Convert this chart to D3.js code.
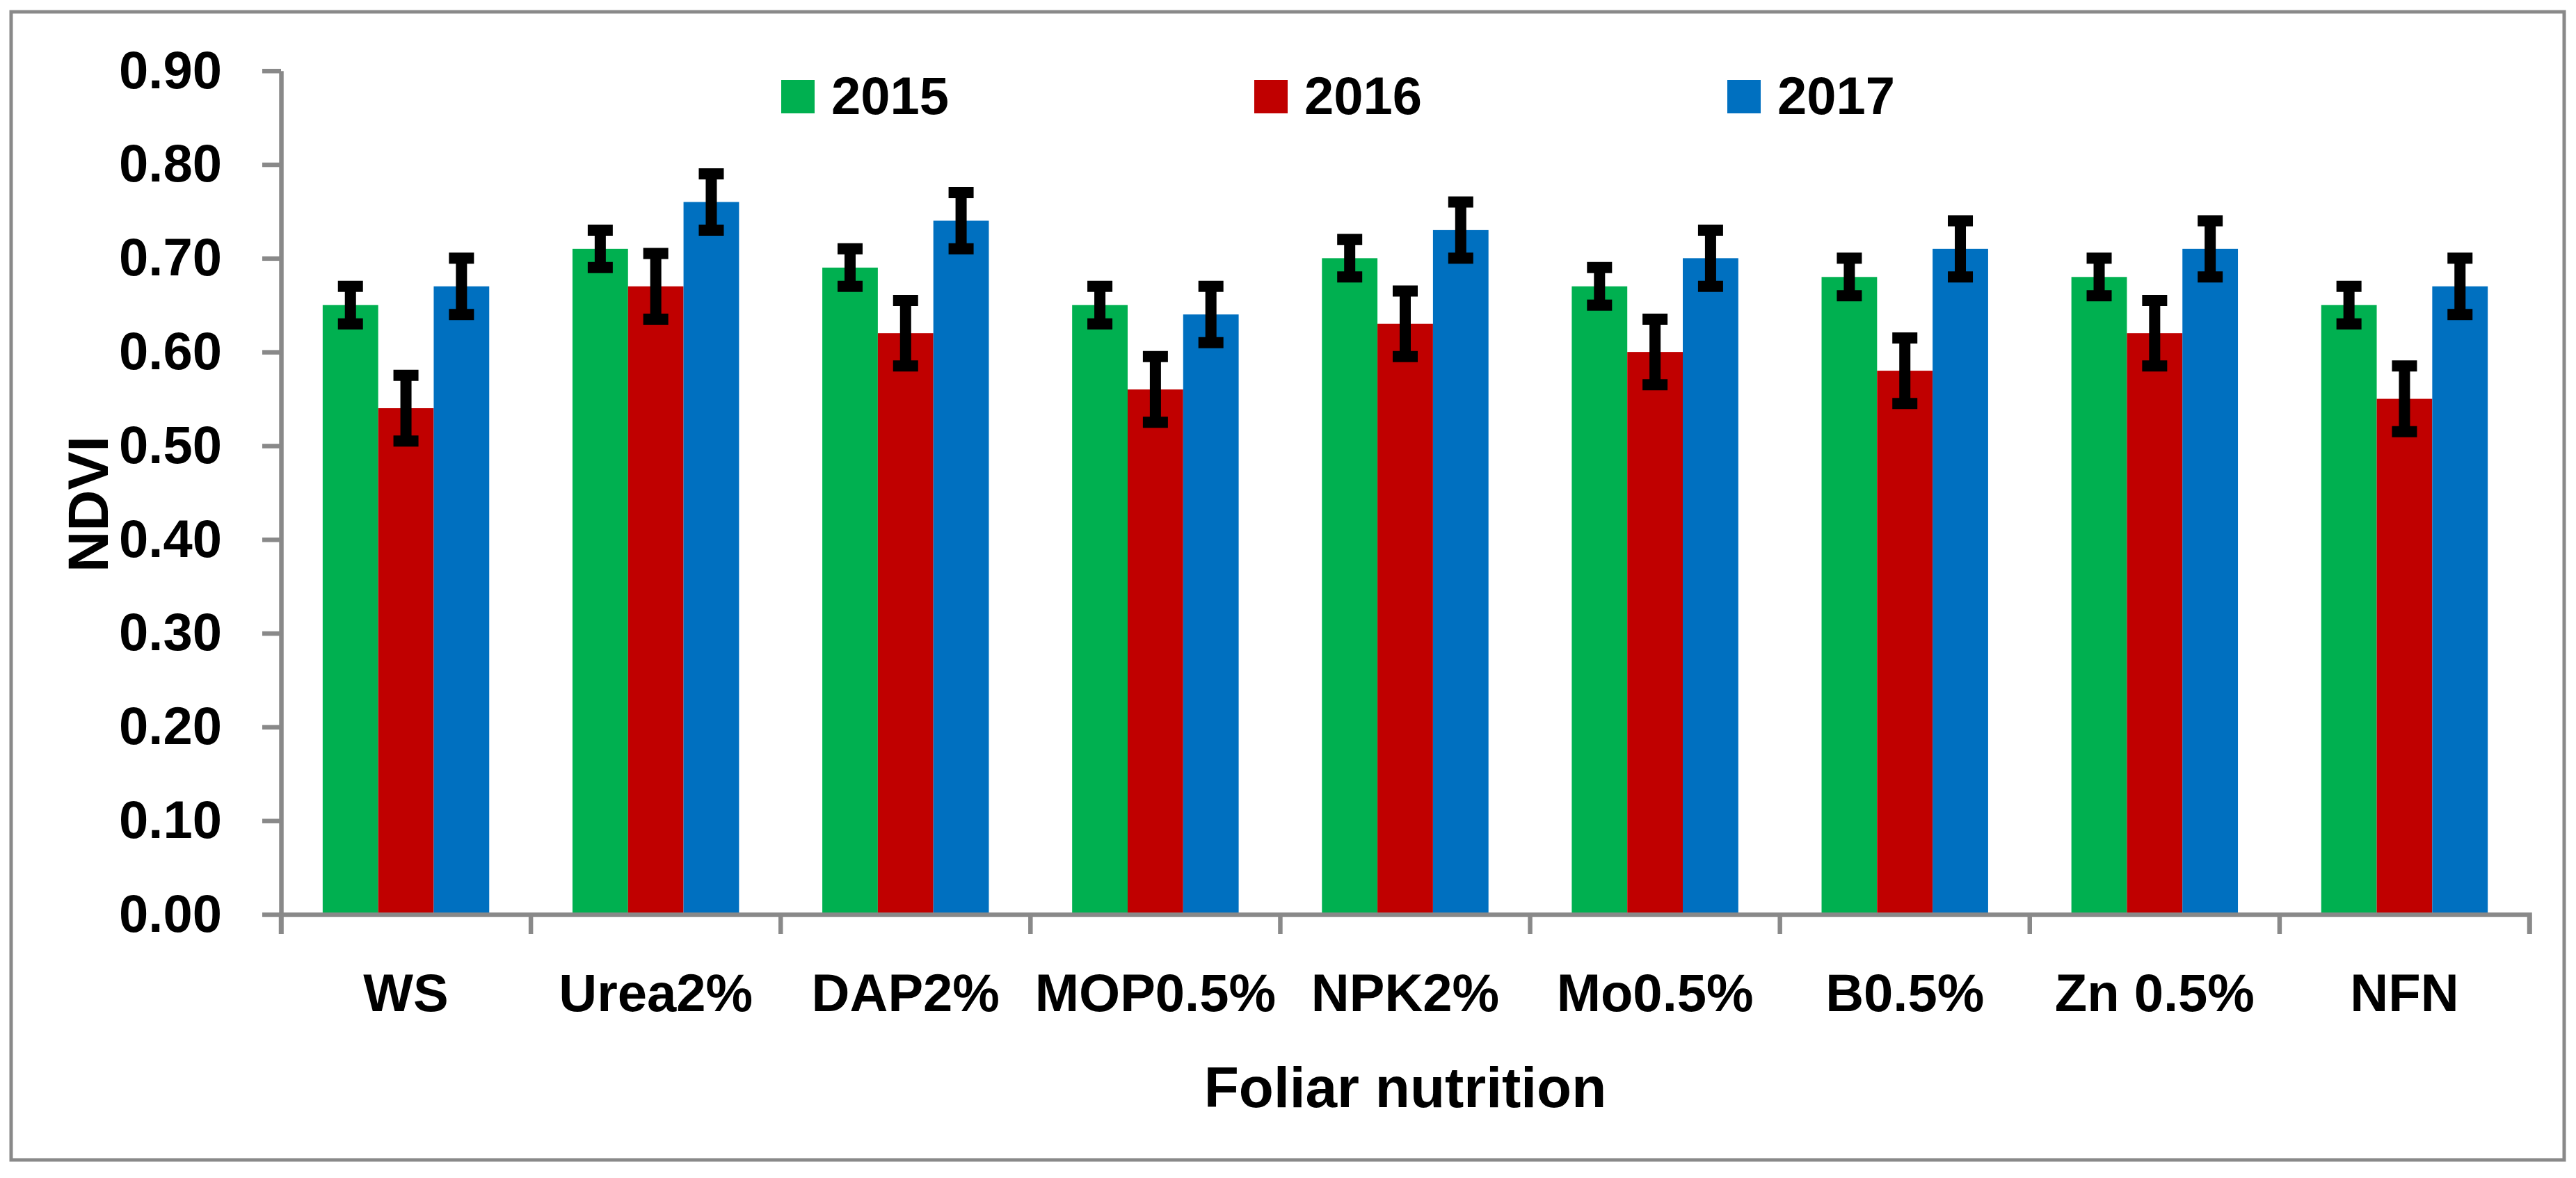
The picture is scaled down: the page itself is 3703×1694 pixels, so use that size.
<!DOCTYPE html>
<html>
<head>
<meta charset="utf-8">
<script src="https://cdn.jsdelivr.net/npm/d3@7"></script>
<style>
  body { margin: 0; background: #fff; }
  svg text { font-family: "Liberation Sans", Arial, sans-serif; font-weight: bold; fill: #000; }
</style>
</head>
<body>
<svg id="chart" width="3703" height="1694"></svg>
<script>
// дані з рисунка
const categories = ["WS", "Urea2%", "DAP2%", "MOP0.5%", "NPK2%", "Mo0.5%", "B0.5%", "Zn 0.5%", "NFN"];
const years = ["2015", "2016", "2017"];
const ndvi2015 = [0.65, 0.71, 0.69, 0.65, 0.70, 0.67, 0.68, 0.68, 0.65];
const ndvi2016 = [0.54, 0.67, 0.62, 0.56, 0.63, 0.60, 0.58, 0.62, 0.55];
const ndvi2017 = [0.67, 0.76, 0.74, 0.64, 0.73, 0.70, 0.71, 0.71, 0.67];
const err2015 = [0.02, 0.02, 0.02, 0.02, 0.02, 0.02, 0.02, 0.02, 0.02];
const err2016 = [0.035, 0.035, 0.035, 0.035, 0.035, 0.035, 0.035, 0.035, 0.035];
const err2017 = [0.03, 0.03, 0.03, 0.03, 0.03, 0.03, 0.03, 0.03, 0.03];
const yTicks = [0, 0.1, 0.2, 0.3, 0.4, 0.5, 0.6, 0.7, 0.8, 0.9];
const colors = ["#00B050", "#C00000", "#0070C0"];

const values = [ndvi2015, ndvi2016, ndvi2017];
const errors = [err2015, err2016, err2017];
const axisColor = "#898989";

const svg = d3.select("#chart");

// рамка навколо діаграми
svg.append("rect")
    .attr("x", 16).attr("y", 17)
    .attr("width", 3670).attr("height", 1651)
    .attr("fill", "none")
    .attr("stroke", axisColor)
    .attr("stroke-width", 5);

// шкали
const y = d3.scaleLinear().domain([0, 0.9]).range([1315, 101.7]);
const x0 = d3.scaleBand().domain(categories).range([404, 3636]);
const x1 = d3.scaleBand().domain(years).range([0, x0.bandwidth()])
    .paddingInner(0).paddingOuter(0.75);
const color = d3.scaleOrdinal().domain(years).range(colors);

// стовпчики
const rows = [];
categories.forEach((c, i) => {
    years.forEach((yr, k) => {
        rows.push({ cat: c, year: yr, value: values[k][i], err: errors[k][i] });
    });
});

svg.append("g").selectAll("rect")
    .data(rows)
    .join("rect")
    .attr("x", d => x0(d.cat) + x1(d.year))
    .attr("y", d => y(d.value))
    .attr("width", x1.bandwidth())
    .attr("height", d => y(0) - y(d.value))
    .attr("fill", d => color(d.year));

// осі
const yAxis = svg.append("g")
    .attr("transform", `translate(${x0.range()[0]},0)`)
    .call(d3.axisLeft(y).tickValues(yTicks).tickFormat(d3.format(".2f"))
        .tickSize(27).tickSizeOuter(0).tickPadding(58));
yAxis.selectAll("text").style("font-size", "76px");

const xAxis = svg.append("g")
    .attr("transform", `translate(0,${y(0)})`)
    .call(d3.axisBottom(x0).tickSize(0).tickSizeOuter(28));
xAxis.selectAll("text")
    .style("font-size", "76px")
    .attr("dy", null)
    .attr("y", 139);

// поділки між категоріями
const bounds = categories.map(c => x0(c)).concat([x0.range()[1]]);
xAxis.selectAll(".bound")
    .data(bounds)
    .join("line")
    .attr("class", "bound")
    .attr("x1", d => d).attr("x2", d => d)
    .attr("y1", 0).attr("y2", 28);

svg.selectAll(".domain, .tick line, .bound")
    .attr("stroke", axisColor)
    .attr("stroke-width", 6.5);
svg.selectAll(".domain").attr("fill", "none");

// похибки
const eb = svg.append("g");
rows.forEach(d => {
    const cx = x0(d.cat) + x1(d.year) + x1.bandwidth() / 2;
    const yTop = y(d.value + d.err);
    const yBot = y(d.value - d.err);
    eb.append("line")
        .attr("x1", cx).attr("x2", cx)
        .attr("y1", yTop).attr("y2", yBot)
        .attr("stroke", "#000").attr("stroke-width", 16);
    [yTop, yBot].forEach(yy => {
        eb.append("line")
            .attr("x1", cx - 18).attr("x2", cx + 18)
            .attr("y1", yy).attr("y2", yy)
            .attr("stroke", "#000").attr("stroke-width", 16);
    });
});

// легенда
const legendX = d3.scaleBand().domain(years).range([1123, 1123 + 3 * 680]);
const lg = svg.append("g").selectAll("g")
    .data(years)
    .join("g")
    .attr("transform", d => `translate(${legendX(d)},115)`);
lg.append("rect")
    .attr("width", 48).attr("height", 48)
    .attr("fill", d => color(d));
lg.append("text")
    .attr("x", 72).attr("y", 49)
    .style("font-size", "76px")
    .text(d => d);

// підписи осей
svg.append("text")
    .attr("x", (x0.range()[0] + x0.range()[1]) / 2)
    .attr("y", 1592)
    .attr("text-anchor", "middle")
    .style("font-size", "82px")
    .text("Foliar nutrition");

svg.append("text")
    .attr("transform", "translate(155,725) rotate(-90)")
    .attr("text-anchor", "middle")
    .style("font-size", "82px")
    .text("NDVI");
</script>
</body>
</html>
